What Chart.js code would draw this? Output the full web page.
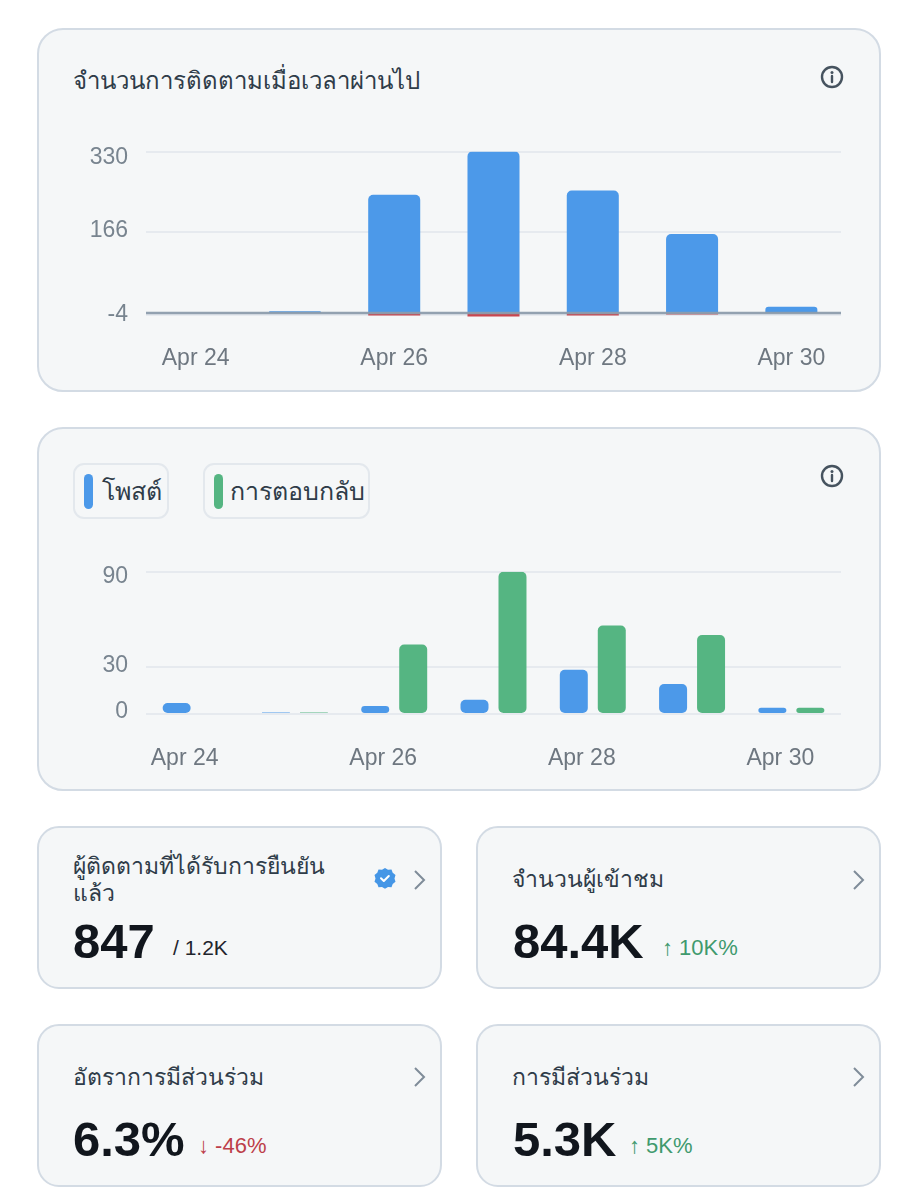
<!DOCTYPE html>
<html>
<head>
<meta charset="utf-8">
<script src="https://cdn.jsdelivr.net/npm/chart.js@4"></script>
<style>
  html, body { margin: 0; padding: 0; background: #fff; }
  body { width: 918px; height: 1200px; position: relative; overflow: hidden;
         font-family: "Liberation Sans", "Noto Sans", sans-serif; color: #2f3c49; }
  .card { position: absolute; box-sizing: border-box; background: #f5f7f8;
          border: 2px solid #d3dbe4; }
  .big { border-radius: 26px; left: 37px; width: 844px; height: 364px; }
  .small { border-radius: 22px; width: 405px; height: 163px; }
  .abs { position: absolute; white-space: nowrap; }
  .title { font-size: 23px; line-height: 27px; }
  .num { font-size: 49px; line-height: 56px; font-weight: bold; color: #11161d; }
  .delta { font-size: 22px; line-height: 26px; }
  .up { color: #3f9a6e; }
  .down { color: #bd3f4a; }
  .chip { position: absolute; box-sizing: border-box; top: 463px; height: 56px;
          border: 2px solid #e3e8ed; border-radius: 11px; }
  .mark { position: absolute; left: 84px; top: 474px; width: 9px; height: 35px; border-radius: 5px; }
  canvas { position: absolute; }
  svg { position: absolute; overflow: visible; }
</style>
</head>
<body>
<div class="card big" style="top:28px"></div>
<div class="card big" style="top:427px"></div>
<div class="card small" style="left:37px;top:826px"></div>
<div class="card small" style="left:476px;top:826px"></div>
<div class="card small" style="left:37px;top:1024px"></div>
<div class="card small" style="left:476px;top:1024px"></div>

<div class="abs" style="left:73px;top:65px;font-size:24px;line-height:32px">จำนวนการติดตามเมื่อเวลาผ่านไป</div>
<svg class="info" style="left:820px;top:65px" width="24" height="24" viewBox="0 0 24 24"><circle cx="12" cy="12" r="10" fill="none" stroke="#46535f" stroke-width="2.4"/><circle cx="12" cy="7.5" r="1.5" fill="#46535f"/><path d="M12 11v6" stroke="#46535f" stroke-width="2.4" stroke-linecap="round"/></svg>
<canvas id="followers" style="left:37px;top:120px;width:844px;height:260px" width="844" height="260"></canvas>

<div class="chip" style="left:73px;width:96px"></div>
<div class="mark" style="background:#4c99e9"></div>
<div class="abs" style="left:102px;top:474px;font-size:25px;line-height:34px">โพสต์</div>
<div class="chip" style="left:203px;width:167px"></div>
<div class="mark" style="left:214px;background:#55b582"></div>
<div class="abs" style="left:230px;top:474px;font-size:25px;line-height:34px">การตอบกลับ</div>
<svg class="info" style="left:820px;top:464px" width="24" height="24" viewBox="0 0 24 24"><circle cx="12" cy="12" r="10" fill="none" stroke="#46535f" stroke-width="2.4"/><circle cx="12" cy="7.5" r="1.5" fill="#46535f"/><path d="M12 11v6" stroke="#46535f" stroke-width="2.4" stroke-linecap="round"/></svg>
<canvas id="activity" style="left:37px;top:540px;width:844px;height:240px" width="844" height="240"></canvas>

<div class="abs title" style="left:73px;top:853px">ผู้ติดตามที่ได้รับการยืนยัน</div>
<div class="abs title" style="left:73px;top:880px">แล้ว</div>
<svg style="left:374px;top:867px" width="22" height="22" viewBox="0 0 22 22"><path d="M11 1l3 1.800 3.500-.300 1.200 3.300 2.800 2.200-1 3.400 1 3.400-2.800 2.200-1.200 3.300-3.500-.3-3 1.800-3-1.800-3.500.3-1.200-3.300-2.800-2.200 1-3.400-1-3.400 2.800-2.200 1.200-3.300 3.500.3z" fill="#4596e6"/><path d="M7 11.300l2.800 2.700 5-5" fill="none" stroke="#fff" stroke-width="2" stroke-linecap="round" stroke-linejoin="round"/></svg>
<svg style="left:413px;top:869px" width="14" height="22" viewBox="0 0 14 22"><path d="M2 2l9 9-9 9" fill="none" stroke="#7f8c99" stroke-width="2"/></svg>
<div class="abs num" style="left:73px;top:913px">847</div>
<div class="abs delta" style="left:173px;top:935px;color:#1f252c;font-size:21px">/ 1.2K</div>

<div class="abs title" style="left:512px;top:866px">จำนวนผู้เข้าชม</div>
<svg style="left:852px;top:869px" width="14" height="22" viewBox="0 0 14 22"><path d="M2 2l9 9-9 9" fill="none" stroke="#7f8c99" stroke-width="2"/></svg>
<div class="abs num" style="left:513px;top:913px">84.4K</div>
<div class="abs delta up" style="left:662px;top:935px">↑ 10K%</div>

<div class="abs title" style="left:73px;top:1064px">อัตราการมีส่วนร่วม</div>
<svg style="left:413px;top:1066px" width="14" height="22" viewBox="0 0 14 22"><path d="M2 2l9 9-9 9" fill="none" stroke="#7f8c99" stroke-width="2"/></svg>
<div class="abs num" style="left:73px;top:1111px">6.3%</div>
<div class="abs delta down" style="left:198px;top:1133px">↓ -46%</div>

<div class="abs title" style="left:512px;top:1064px">การมีส่วนร่วม</div>
<svg style="left:852px;top:1066px" width="14" height="22" viewBox="0 0 14 22"><path d="M2 2l9 9-9 9" fill="none" stroke="#7f8c99" stroke-width="2"/></svg>
<div class="abs num" style="left:513px;top:1111px">5.3K</div>
<div class="abs delta up" style="left:629px;top:1133px">↑ 5K%</div>

<script>
const days = ["Apr 24", "Apr 25", "Apr 26", "Apr 27", "Apr 28", "Apr 29", "Apr 30"];

const gained = [0, 4, 242, 331, 251, 162, 13];
const lost = [0, 0, -5, -7, -5, -3, 0];
const followerTicks = [-4, 166, 330];

const posts = [7, 1, 5, 9, 28, 19, 4];
const replies = [null, 1, 44, 90, 56, 50, 4];
const activityTicks = [0, 30, 90];

const tickFont = { family: '"Liberation Sans", sans-serif', size: 23 };

// draws the darker line at zero on top of the bars
const zeroLine = {
  id: "zeroLine",
  afterDatasetsDraw(chart) {
    const y = chart.scales.y.getPixelForValue(0);
    const { ctx, chartArea } = chart;
    ctx.save();
    ctx.strokeStyle = "rgba(140,156,172,0.95)";
    ctx.lineWidth = 2.5;
    ctx.beginPath();
    ctx.moveTo(chartArea.left, y);
    ctx.lineTo(chartArea.right, y);
    ctx.stroke();
    ctx.restore();
  },
};

// top label of the first chart sits under its grid line
const nudgeLabels = {
  id: "nudgeLabels",
  afterUpdate(chart, args, opts) {
    chart.scales.y.getLabelItems().forEach((item, i) => {
      item.options.translation[1] += opts.dy[i] || 0;
    });
  },
};

function axes(ticks, min, max, plotBottom, padding, labelOffset) {
  return {
    x: {
      stacked: plotBottom.stacked,
      grid: { display: false },
      border: { display: false },
      afterFit: (s) => { s.height = plotBottom.height; },
      ticks: {
        color: "#6e7780",
        font: tickFont,
        padding: padding,
        labelOffset: labelOffset,
        maxRotation: 0,
        autoSkip: false,
        callback(value, i) { return i % 2 === 0 ? days[i] : ""; },
      },
    },
    y: {
      stacked: plotBottom.stacked,
      min: min,
      max: max,
      grid: { color: "#e6eaef", lineWidth: 2, drawTicks: false },
      border: { display: false },
      afterFit: (s) => { s.width = 109; },
      afterBuildTicks: (s) => { s.ticks = ticks.map((v) => ({ value: v })); },
      ticks: { color: "#78848f", font: tickFont, padding: 18 },
    },
  };
}

new Chart(document.getElementById("followers").getContext("2d"), {
  type: "bar",
  data: {
    labels: days,
    datasets: [
      {
        label: "gained",
        data: gained,
        backgroundColor: "#4c99e9",
        borderRadius: { topLeft: 5, topRight: 5, bottomLeft: 0, bottomRight: 0 },
        borderSkipped: false,
        barPercentage: 0.524,
        categoryPercentage: 1,
      },
      {
        label: "lost",
        data: lost,
        backgroundColor: "#c9464f",
        barPercentage: 0.524,
        categoryPercentage: 1,
      },
    ],
  },
  options: {
    responsive: false,
    animation: false,
    layout: { padding: { top: 23, right: 40 } },
    plugins: { legend: { display: false }, tooltip: { enabled: false }, nudgeLabels: { dy: [0, -1, 6] } },
    scales: axes(followerTicks, -8, 330, { stacked: true, height: 63 }, 20, 0),
  },
  plugins: [zeroLine, nudgeLabels],
});

new Chart(document.getElementById("activity").getContext("2d"), {
  type: "bar",
  data: {
    labels: days,
    datasets: [
      {
        label: "โพสต์",
        data: posts,
        backgroundColor: "#4c99e9",
        borderRadius: 5,
        borderSkipped: false,
        barPercentage: 0.737,
        categoryPercentage: 0.765,
      },
      {
        label: "การตอบกลับ",
        data: replies,
        backgroundColor: "#55b582",
        borderRadius: 5,
        borderSkipped: false,
        barPercentage: 0.737,
        categoryPercentage: 0.765,
      },
    ],
  },
  options: {
    responsive: false,
    animation: false,
    layout: { padding: { top: 24, right: 40 } },
    plugins: { legend: { display: false }, tooltip: { enabled: false }, nudgeLabels: { dy: [-2, -1, 5] } },
    scales: axes(activityTicks, 0, 90, { stacked: false, height: 66 }, 23, -11),
  },
  plugins: [nudgeLabels],
});
</script>
</body>
</html>
